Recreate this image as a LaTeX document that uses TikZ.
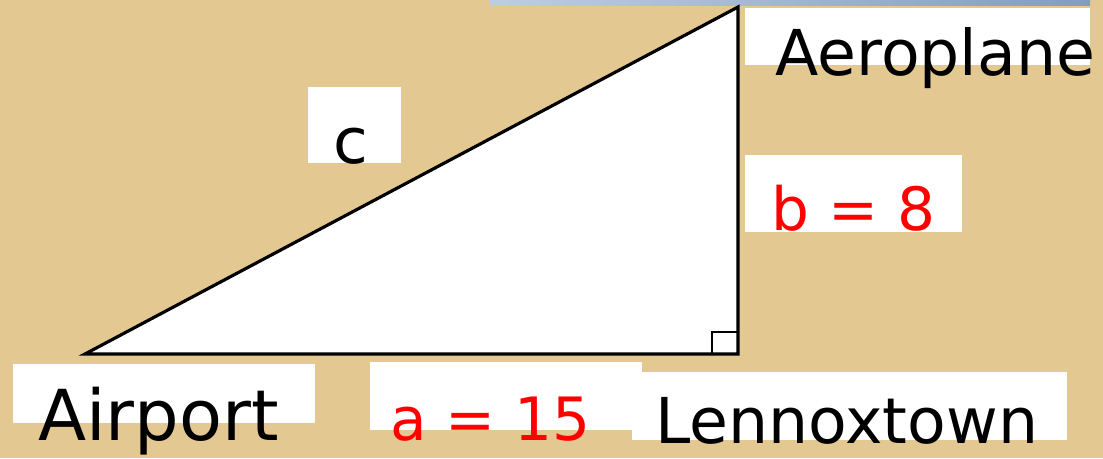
\documentclass[tikz,border=0pt]{standalone}
\usepackage{fontspec}
\setmainfont{DejaVu Sans}
\usetikzlibrary{positioning,calc}
\definecolor{papyrus}{RGB}{228,200,146}
\definecolor{barlight}{RGB}{190,204,228}
\definecolor{bardark}{RGB}{136,154,196}
\definecolor{sidered}{RGB}{255,0,0}

\tikzset{
  tag/.style={fill=white},
  place/.style={anchor=base west, inner sep=0pt, font=\fontsize{36}{40}\selectfont},
  side/.style={place, text=sidered}
}

\begin{document}
\begin{tikzpicture}[x=0.02cm, y=-0.02cm]
\useasboundingbox (0,0) rectangle (1103,458);
\fill[papyrus] (0,0) rectangle (1103,458);
\shade[left color=barlight, right color=bardark] (490,0) rectangle (1090,5);
% the right triangle
\coordinate (airport) at (85,354);
\coordinate (lennox) at (738,354);
\coordinate (plane) at (738,7);
\draw[fill=white, line width=1.8pt, line join=miter] (airport) -- (lennox) -- (plane) -- cycle;
\draw[line width=1.2pt] ($(lennox)+(-26,0)$) rectangle ($(lennox)+(0,-22)$);
% white label patches
\fill[tag] (745,8) rectangle (1090,65);
\fill[tag] (308,87) rectangle (401,163);
\fill[tag] (745,155) rectangle (962,232);
\fill[tag] (13,364) rectangle (315,423);
\fill[tag] (370,362) rectangle (642,430);
\fill[tag] (632,372) rectangle (1067,440);
% labels
\node[place] (planelbl) at (775,75) {Aeroplane};
\node[place] (hyp) at (333,163) {c};
\node[side, font=\fontsize{34}{40}\selectfont] (bside) at (771,230) {b = 8};
\node[place, font=\fontsize{40}{44}\selectfont] (airportlbl) at (38,440) {Airport};
\node[side, font=\fontsize{34}{40}\selectfont] (aside) at (390,440) {a = 15};
\node[place] (lennoxlbl) at (655,443) {Lennoxtown};
\end{tikzpicture}
\end{document}
